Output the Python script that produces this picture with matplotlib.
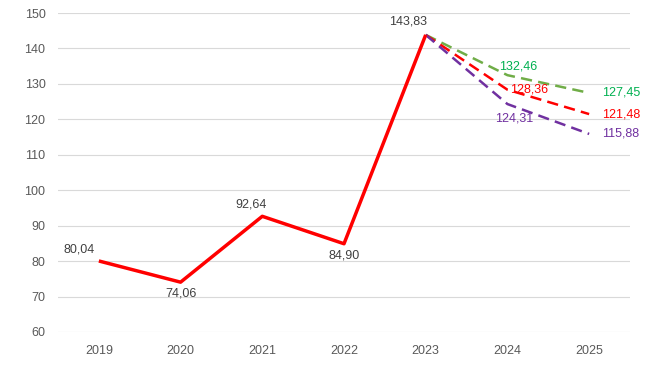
import matplotlib
matplotlib.use("Agg")
import matplotlib.pyplot as plt

years = ["2019", "2020", "2021", "2022", "2023", "2024", "2025"]
actual = [80.04, 74.06, 92.64, 84.90, 143.83]
optimistic = [143.83, 132.46, 127.45]
base = [143.83, 128.36, 121.48]
pessimistic = [143.83, 124.31, 115.88]

def fmt(v):
    return "{:.2f}".format(v).replace(".", ",")

plt.rcParams['font.family'] = ['Liberation Sans', 'DejaVu Sans']

fig = plt.figure(figsize=(6.46, 3.70), dpi=100)
ax = fig.add_axes([58/646, 38/370, 572/646, 319/370])

xa = list(range(len(actual)))
xf = [4, 5, 6]

ax.plot(xf, optimistic, color="#70AD47", lw=1.8, ls=(0, (4.5, 2.5)))
ax.plot(xf, base, color="#FF0000", lw=1.8, ls=(0, (4.5, 2.5)))
ax.plot(xf, pessimistic, color="#7030A0", lw=1.8, ls=(0, (4.5, 2.5)))
ax.plot(xa, actual, color="#FF0000", lw=2.5, solid_capstyle="butt")

fs = 9
lab = dict(fontsize=fs, color="#404040")
offs = [(-14, 4, "center", "bottom"), (0, -4, "center", "top"), (-8, 4, "center", "bottom"),
        (0, -4, "center", "top"), (-13, 5, "center", "bottom")]
for i, v in enumerate(actual):
    dx, dy, ha, va = offs[i]
    ax.annotate(fmt(v), (xa[i], v), xytext=(dx, dy), textcoords="offset points",
                ha=ha, va=va, **lab)

ax.annotate(fmt(optimistic[1]), (5, optimistic[1]), xytext=(-6, 2), textcoords="offset points",
            ha="left", va="bottom", fontsize=fs, color="#00B050")
ax.annotate(fmt(optimistic[2]), (6, optimistic[2]), xytext=(9, 0), textcoords="offset points",
            ha="left", va="center", fontsize=fs, color="#00B050")
ax.annotate(fmt(base[1]), (5, base[1]), xytext=(2, 0), textcoords="offset points",
            ha="left", va="center", fontsize=fs, color="#FF0000")
ax.annotate(fmt(base[2]), (6, base[2]), xytext=(9, 0), textcoords="offset points",
            ha="left", va="center", fontsize=fs, color="#FF0000")
ax.annotate(fmt(pessimistic[1]), (5, pessimistic[1]), xytext=(5, -6), textcoords="offset points",
            ha="center", va="top", fontsize=fs, color="#7030A0")
ax.annotate(fmt(pessimistic[2]), (6, pessimistic[2]), xytext=(9, 0), textcoords="offset points",
            ha="left", va="center", fontsize=fs, color="#7030A0")

ax.set_xlim(-0.5, 6.5)
ax.set_ylim(60, 150)
ax.set_yticks(range(60, 151, 10))
ax.set_xticks(range(len(years)))
ax.set_xticklabels(years)
ax.yaxis.grid(True, color="#D9D9D9", lw=0.8)
ax.set_axisbelow(True)
for s in ax.spines.values():
    s.set_visible(False)
ax.tick_params(length=0, labelsize=fs, labelcolor="#595959", pad=9)
ax.tick_params(axis="x", pad=9)

fig.savefig("out.png", dpi=100)
